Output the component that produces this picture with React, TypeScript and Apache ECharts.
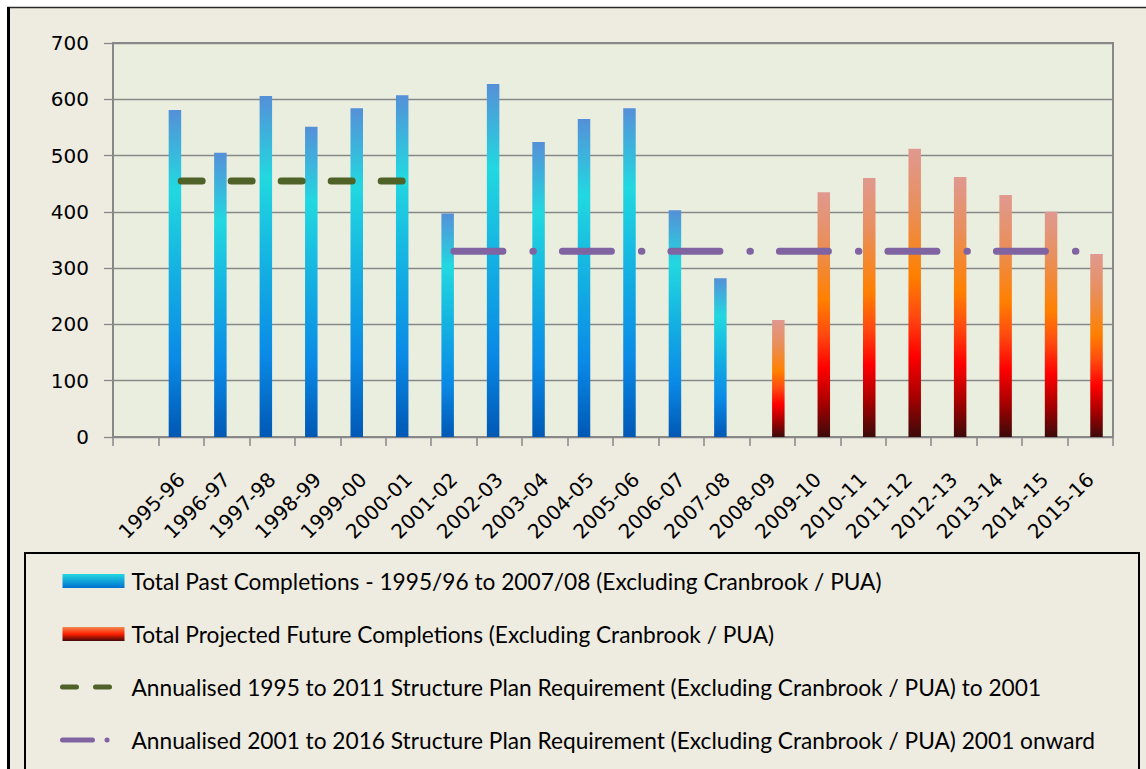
import React, { useEffect, useRef } from "react";
import * as echarts from "echarts";

const categories = ["", "1995-96", "1996-97", "1997-98", "1998-99", "1999-00", "2000-01", "2001-02", "2002-03", "2003-04", "2004-05", "2005-06", "2006-07", "2007-08", "2008-09", "2009-10", "2010-11", "2011-12", "2012-13", "2013-14", "2014-15", "2015-16"];

const pastCompletions = [null, 581, 505, 606, 551, 584, 607, 397, 627, 524, 565, 584, 403, 282, null, null, null, null, null, null, null, null];
const futureCompletions = [null, null, null, null, null, null, null, null, null, null, null, null, null, null, 208, 435, 460, 512, 462, 430, 400, 325];
const requirement1995 = [null, 455, 455, 455, 455, 455, 455, null, null, null, null, null, null, null, null, null, null, null, null, null, null, null];
const requirement2001 = [null, null, null, null, null, null, null, 330, 330, 330, 330, 330, 330, 330, 330, 330, 330, 330, 330, 330, 330, 330];

const seriesNames = [
  "Total Past Completions - 1995/96 to 2007/08 (Excluding Cranbrook / PUA)",
  "Total Projected Future Completions (Excluding Cranbrook / PUA)",
  "Annualised 1995 to 2011 Structure Plan Requirement (Excluding Cranbrook / PUA) to 2001",
  "Annualised 2001 to 2016 Structure Plan Requirement (Excluding Cranbrook / PUA) 2001 onward",
];

const yTicks = { min: 0, max: 700, interval: 100 };

export default function App() {
  const ref = useRef<HTMLDivElement>(null);
  useEffect(() => {
    if (!ref.current) return;
    const chart = echarts.init(ref.current, null, { renderer: "svg" });
    const G = echarts.graphic.LinearGradient;
    const pastGrad = new G(0, 0, 0, 1, [
      { offset: 0, color: "#5590d8" },
      { offset: 0.24, color: "#22d8e0" },
      { offset: 0.5, color: "#14b0e2" },
      { offset: 0.76, color: "#0a8ae6" },
      { offset: 1, color: "#0058b4" },
    ]);
    const futureGrad = new G(0, 0, 0, 1, [
      { offset: 0, color: "#e0998f" },
      { offset: 0.2, color: "#e88f5e" },
      { offset: 0.44, color: "#ff8000" },
      { offset: 0.58, color: "#ff4a10" },
      { offset: 0.72, color: "#ff0000" },
      { offset: 0.86, color: "#a80000" },
      { offset: 1, color: "#3c0a0a" },
    ]);
    const pastLegendGrad = new G(0, 0, 0, 1, [
      { offset: 0, color: "#22d8e0" },
      { offset: 1, color: "#0070d0" },
    ]);
    const futureLegendGrad = new G(0, 0, 0, 1, [
      { offset: 0, color: "#f08a50" },
      { offset: 0.5, color: "#ff2000" },
      { offset: 1, color: "#400808" },
    ]);
    const font = "DejaVu Sans";
    chart.setOption({
      animation: false,
      backgroundColor: "#eeebe1",
      graphic: [
        { type: "rect", shape: { x: 0, y: 0, width: 1146, height: 7 }, style: { fill: "#ffffff" }, z: 100 },
        { type: "rect", shape: { x: 0, y: 0, width: 7, height: 769 }, style: { fill: "#ffffff" }, z: 100 },
        { type: "line", shape: { x1: 7, y1: 7.5, x2: 1146, y2: 7.5 }, style: { stroke: "#2a2a2a", lineWidth: 1.5 }, z: 101 },
        { type: "line", shape: { x1: 8.5, y1: 7, x2: 8.5, y2: 769 }, style: { stroke: "#000000", lineWidth: 3 }, z: 101 },
        { type: "rect", shape: { x: 25, y: 553, width: 1114, height: 240 }, style: { fill: "none", stroke: "#000000", lineWidth: 2 }, z: 101 },
      ],
      grid: {
        left: 113,
        top: 43,
        width: 1000,
        height: 394,
        show: true,
        backgroundColor: "#eaeedf",
        borderColor: "#888888",
        borderWidth: 2,
      },
      legend: {
        orient: "vertical",
        left: 60,
        top: 569,
        padding: 0,
        itemWidth: 62,
        itemHeight: 14,
        itemGap: 29,
        selectedMode: false,
        textStyle: { fontFamily: "Lato", fontSize: 22.7, color: "#000", lineHeight: 24, padding: [0, 0, 0, 2] },
        data: [
          { name: seriesNames[0], icon: "rect", itemStyle: { color: pastLegendGrad } },
          { name: seriesNames[1], icon: "rect", itemStyle: { color: futureLegendGrad } },
          {
            name: seriesNames[2],
            itemStyle: { opacity: 0 },
            lineStyle: { color: "#4f6228", width: 5, cap: "round", type: [14, 19] },
          },
          {
            name: seriesNames[3],
            itemStyle: { opacity: 0 },
            lineStyle: { color: "#8064a2", width: 5, cap: "round", type: [30, 14.5, 0.1, 20] },
          },
        ],
      },
      xAxis: {
        type: "category",
        data: categories,
        axisLine: { lineStyle: { color: "#888888", width: 2 } },
        axisTick: { show: true, length: 9, interval: 0, lineStyle: { color: "#888888", width: 1.5 } },
        axisLabel: { interval: 0, rotate: 45, margin: 39, color: "#000", fontFamily: font, fontSize: 20 },
      },
      yAxis: {
        type: "value",
        min: yTicks.min,
        max: yTicks.max,
        interval: yTicks.interval,
        axisLine: { show: true, lineStyle: { color: "#888888", width: 1.5 } },
        axisTick: { show: true, length: 9, lineStyle: { color: "#888888", width: 1.3 } },
        axisLabel: { margin: 24, color: "#000", fontFamily: font, fontSize: 20 },
        splitLine: { lineStyle: { color: "#888888", width: 1.3 } },
      },
      series: [
        {
          name: seriesNames[0],
          type: "bar",
          data: pastCompletions,
          barWidth: 12.5,
          barGap: "0%",
          itemStyle: { color: pastGrad },
        },
        {
          name: seriesNames[1],
          type: "bar",
          data: futureCompletions,
          barWidth: 12.5,
          barGap: "0%",
          itemStyle: { color: futureGrad },
        },
        {
          name: seriesNames[2],
          type: "line",
          data: requirement1995,
          symbol: "none",
          z: 5,
          itemStyle: { color: "#4f6228" },
          lineStyle: { color: "#4f6228", width: 7, cap: "round", type: [21, 29] },
        },
        {
          name: seriesNames[3],
          type: "line",
          data: requirement2001,
          symbol: "none",
          z: 5,
          itemStyle: { color: "#8064a2" },
          lineStyle: { color: "#8064a2", width: 7, cap: "round", type: [49, 30, 0.5, 29] },
        },
      ],
    });
    return () => chart.dispose();
  }, []);
  return <div ref={ref} style={{ position: "absolute", left: 0, top: 0, width: 1146, height: 769 }} />;
}
